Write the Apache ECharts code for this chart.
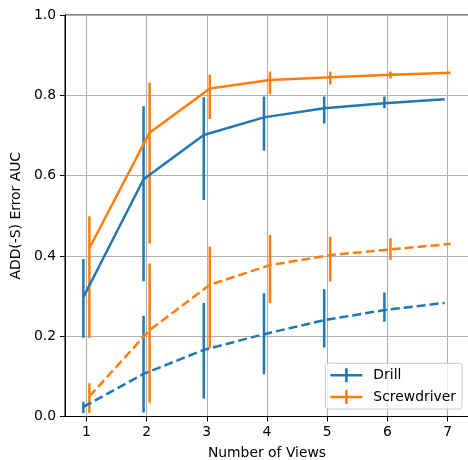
<!DOCTYPE html>
<html>
<head>
<meta charset="utf-8">
<script src="https://cdn.jsdelivr.net/npm/echarts@6/dist/echarts.min.js"></script>
<style>
  html, body { margin: 0; padding: 0; background: #fff; }
  #chart { width: 468px; height: 460px; }
</style>
</head>
<body>
<div id="chart"></div>
<script>
// x positions (number of views)
const views = [1, 2, 3, 4, 5, 6, 7];

// solid lines
const drillSolid = [0.297, 0.591, 0.701, 0.745, 0.768, 0.780, 0.790];
const drillSolidLow = [0.196, 0.337, 0.539, 0.662, 0.730, 0.768, null];
const drillSolidHigh = [0.392, 0.773, 0.795, 0.797, 0.797, 0.797, null];

const screwSolid = [0.419, 0.707, 0.817, 0.838, 0.845, 0.851, 0.856];
const screwSolidLow = [0.196, 0.431, 0.741, 0.803, 0.827, 0.842, null];
const screwSolidHigh = [0.499, 0.831, 0.852, 0.859, 0.859, 0.859, null];

// dashed lines
const drillDashed = [0.024, 0.106, 0.166, 0.205, 0.240, 0.265, 0.283];
const drillDashedLow = [0.009, 0.010, 0.045, 0.105, 0.172, 0.236, null];
const drillDashedHigh = [0.037, 0.251, 0.283, 0.307, 0.317, 0.309, null];

const screwDashed = [0.050, 0.215, 0.328, 0.377, 0.402, 0.416, 0.430];
const screwDashedLow = [0.009, 0.034, 0.170, 0.282, 0.336, 0.390, null];
const screwDashedHigh = [0.083, 0.381, 0.423, 0.452, 0.448, 0.444, null];

const xTicks = [1, 2, 3, 4, 5, 6, 7];

const BLUE = '#1f77b4';
const ORANGE = '#ff7f0e';
const FONT = 'DejaVu Sans';
const LW = 2.5;

const chart = echarts.init(document.getElementById('chart'));

// line series
const makeLine = (name, shift, vals, color, dashed) => ({
  name,
  type: 'line',
  data: views.map((v, i) => [v + shift, vals[i]]),
  showSymbol: false,
  symbol: 'none',
  color,
  lineStyle: { color, width: LW, type: dashed ? [9, 4] : 'solid' },
  silent: true,
  animation: false,
  z: 3,
});

// vertical error bars
const makeErr = (name, shift, low, high, color) => ({
  name,
  type: 'custom',
  clip: true,
  encode: { x: 0, y: [1, 2] },
  data: views
    .map((v, i) => [v + shift, low[i], high[i]])
    .filter((d) => d[1] !== null),
  renderItem: (params, api) => {
    const p1 = api.coord([api.value(0), api.value(1)]);
    const p2 = api.coord([api.value(0), api.value(2)]);
    return {
      type: 'line',
      shape: { x1: p1[0], y1: p1[1], x2: p2[0], y2: p2[1] },
      style: { stroke: color, lineWidth: LW },
    };
  },
  silent: true,
  animation: false,
  z: 3,
});

const plusIcon = 'path://M0,5.75 H14.75 V0 H17.25 V5.75 H32 V8.25 H17.25 V14 H14.75 V8.25 H0 Z';

const option = {
  animation: false,
  textStyle: { fontFamily: FONT },
  grid: {
    left: 65,
    top: 15,
    width: 404,
    height: 401.5,
    outerBoundsMode: 'none',
    containLabel: false,
    show: true,
    borderColor: '#000',
    borderWidth: 1,
    backgroundColor: 'transparent',
  },
  xAxis: {
    type: 'value',
    min: 0.645,
    max: 7.355,
    splitNumber: 7,
    name: 'Number of Views',
    nameLocation: 'middle',
    nameGap: 30,
    nameTextStyle: { color: '#000', fontSize: 13.9, fontFamily: FONT },
    axisLine: { show: true, onZero: false, lineStyle: { color: '#000', width: 1 } },
    axisTick: { show: true, length: 5, customValues: xTicks, lineStyle: { color: '#000', width: 1 } },
    axisLabel: {
      customValues: xTicks,
      color: '#000',
      fontSize: 13.9,
      fontFamily: FONT,
      margin: 9,
    },
    splitLine: { show: true, lineStyle: { color: '#b0b0b0', width: 1.1 } },
  },
  yAxis: {
    type: 'value',
    min: 0,
    max: 1,
    interval: 0.2,
    name: 'ADD(-S) Error AUC',
    nameLocation: 'middle',
    nameRotate: 90,
    nameGap: 40,
    nameTextStyle: { color: '#000', fontSize: 13.9, fontFamily: FONT },
    axisLine: { show: true, lineStyle: { color: '#000', width: 1 } },
    axisTick: { show: true, length: 5, lineStyle: { color: '#000', width: 1 } },
    axisLabel: {
      color: '#000',
      fontSize: 13.9,
      fontFamily: FONT,
      margin: 9,
      formatter: (v) => v.toFixed(1),
    },
    splitLine: { show: true, lineStyle: { color: '#b0b0b0', width: 1.1 } },
  },
  legend: {
    orient: 'vertical',
    right: 6,
    bottom: 51,
    padding: [5, 6, 5, 5],
    itemWidth: 32,
    itemHeight: 14,
    itemGap: 7.7,
    icon: plusIcon,
    itemStyle: { borderWidth: 0 },
    backgroundColor: 'rgba(255,255,255,0.8)',
    borderColor: '#cccccc',
    borderWidth: 1,
    borderRadius: 3,
    textStyle: {
      color: '#000',
      fontSize: 13.9,
      fontFamily: FONT,
      lineHeight: 14,
      padding: [0, 0, 0, 6],
    },
    data: [
      { name: 'Drill', itemStyle: { color: BLUE } },
      { name: 'Screwdriver', itemStyle: { color: ORANGE } },
    ],
  },
  series: [
    makeLine('Drill', -0.05, drillSolid, BLUE, false),
    makeErr('Drill', -0.05, drillSolidLow, drillSolidHigh, BLUE),
    makeLine('Screwdriver', 0.05, screwSolid, ORANGE, false),
    makeErr('Screwdriver', 0.05, screwSolidLow, screwSolidHigh, ORANGE),
    makeLine('Drill dashed', -0.05, drillDashed, BLUE, true),
    makeErr('Drill dashed', -0.05, drillDashedLow, drillDashedHigh, BLUE),
    makeLine('Screwdriver dashed', 0.05, screwDashed, ORANGE, true),
    makeErr('Screwdriver dashed', 0.05, screwDashedLow, screwDashedHigh, ORANGE),
  ],
};

chart.setOption(option);
</script>
</body>
</html>
